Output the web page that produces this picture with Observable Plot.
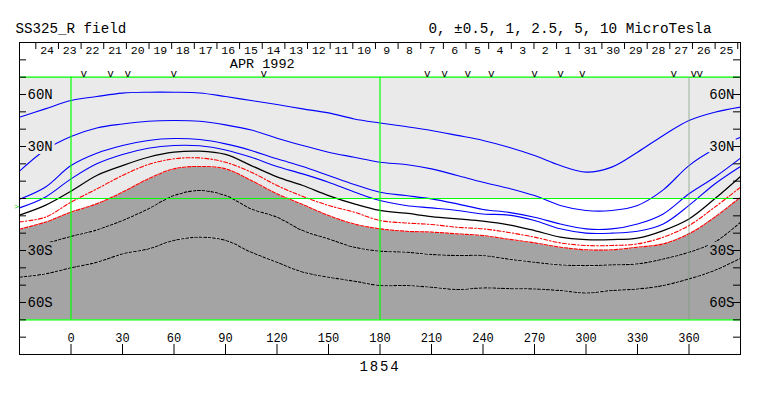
<!DOCTYPE html>
<html><head><meta charset="utf-8">
<script src="https://cdn.jsdelivr.net/npm/d3@7"></script>
<script src="https://cdn.jsdelivr.net/npm/@observablehq/plot@0.6"></script>
<style>html,body{margin:0;padding:0;background:#fff;} svg{display:block}</style>
</head><body><div id="chart"></div>
<script>
// ---- texts ----
const title = "SS325_R field";
const levelsLabel = "0, \u00B10.5, 1, 2.5, 5, 10 MicroTesla";
const rotationLabel = "1854";
const monthLabel = "APR 1992";

// ---- axes / extents (Carrington longitude, latitude) ----
const lonDomain = [-30, 390];
const latDomain = [-90, 90];
const mapLat = 70;
const lonTicks = [0, 30, 60, 90, 120, 150, 180, 210, 240, 270, 300, 330, 360];
const latTicks = [-80, -70, -60, -50, -40, -30, -20, -10, 0, 10, 20, 30, 40, 50, 60, 70, 80];
const latLabels = [60, 30, -30, -60];
const greenLonLines = [0, 180];
const wrapLonLine = [360];
const greenLatLines = [-70, 0, 70];

// date <-> Carrington longitude (rotation 1854)
const dateStart = new Date(Date.UTC(1992, 2, 25));   // Mar 25 1992
const dateEnd = new Date(Date.UTC(1992, 3, 25));     // Apr 25 1992
const lonAtStart = 388.4, lonAtEnd = -20.5;
const monthLabelDate = new Date(Date.UTC(1992, 3, 15));

// observation markers (Carrington longitude)
const obsLons = [7.5, 23.0, 33.1, 59.9, 112.3, 207.5, 217.6, 231.1, 244.8, 270.0, 285.2, 297.8, 351.1, 362.8, 366.3];
const b0Lat = [-4.8];

// ---- contour lines: latitude at each sampled longitude ----
const lons = [-30, -15, 0, 15, 30, 45, 60, 75, 90, 105, 120, 135, 150, 165, 180, 195, 210, 225, 240, 255, 270, 285, 300, 315, 330, 345, 360, 375, 390];
const pos5   = [46.9, 51.7, 56.5, 58.8, 60.8, 61.3, 61.3, 60.9, 58.8, 56.5, 54.2, 51.7, 49.4, 45.9, 43.6, 41.5, 39.2, 36.4, 33.5, 29.6, 24.8, 19.0, 15.2, 18.1, 26.7, 36.4, 45.0, 49.8, 52.7];
const pos2_5 = [15.8, 28.0, 35.8, 40.7, 43.0, 44.6, 45.0, 44.6, 42.5, 39.5, 34.8, 30.6, 26.7, 23.8, 20.9, 19.6, 17.1, 13.3, 9.4, 5.9, 1.7, -4.0, -6.9, -6.9, -4.0, 5.0, 19.0, 28.5, 35.4];
const pos1   = [-0.4, 6.5, 19.0, 26.1, 30.6, 33.5, 34.6, 34.0, 31.5, 27.7, 22.9, 18.5, 13.3, 8.1, 3.6, 1.7, -0.2, -3.1, -6.3, -8.0, -10.8, -14.7, -17.5, -17.5, -14.7, -8.9, 2.7, 12.3, 23.3];
const pos05  = [-5.4, 0.75, 11.3, 20.0, 25.4, 29.0, 30.6, 30.4, 28.0, 23.8, 18.5, 14.2, 9.4, 3.8, -1.2, -4.0, -5.4, -6.9, -8.9, -9.6, -12.7, -17.5, -20.0, -20.0, -18.9, -14.7, -4.0, 8.4, 18.5];
const zero   = [-9.6, -4.0, 4.2, 13.3, 19.0, 23.8, 26.7, 27.3, 25.4, 19.0, 12.5, 7.5, 1.7, -3.1, -6.9, -8.5, -10.4, -11.8, -13.1, -15.2, -18.5, -22.3, -23.7, -23.7, -22.9, -18.5, -11.8, -0.2, 12.7];
const neg05  = [-13.5, -10.8, -2.1, 5.5, 13.3, 19.6, 22.9, 23.4, 20.9, 15.2, 7.5, 1.2, -4.0, -7.9, -12.7, -14.1, -15.0, -16.6, -17.5, -19.6, -22.3, -25.6, -27.1, -27.1, -26.2, -22.3, -15.6, -5.0, 6.5];
const neg1   = [-17.7, -13.7, -7.9, -3.1, 3.6, 11.3, 17.1, 18.5, 17.1, 10.4, 2.7, -3.5, -9.8, -14.7, -17.5, -18.9, -19.4, -20.4, -21.4, -23.5, -25.6, -28.1, -29.6, -29.6, -28.1, -26.2, -20.4, -10.8, 0.75];
const neg2_5 = [null, -26.0, -21.9, -18.1, -12.7, -6.0, 1.7, 4.6, 1.7, -6.0, -10.8, -18.5, -23.3, -28.1, -30.4, -31.0, -32.3, -32.9, -32.9, -35.0, -36.8, -38.3, -38.7, -38.3, -37.7, -34.9, -31.0, -25.2, -13.7];
const neg5   = [-45.4, -43.5, -40.0, -36.8, -32.0, -29.1, -24.2, -22.3, -24.2, -31.0, -36.8, -42.5, -45.4, -47.7, -50.2, -50.2, -51.2, -52.5, -51.6, -52.0, -52.2, -53.1, -54.5, -53.1, -52.2, -50.2, -46.4, -41.5, -34.5];

const rows = lats => lons.map((lon, i) => ({lon, lat: lats[i]}));

// ---- derived via scales ----
const dateToLon = d3.scaleUtc().domain([dateStart, dateEnd]).range([lonAtStart, lonAtEnd]);
const dayTicks = d3.utcDay.range(dateStart, d3.utcDay.offset(dateEnd, 1));
const dayLabels = d3.utcDay.range(dateStart, dateEnd).map(d => ({lon: dateToLon(d3.utcHour.offset(d, 12)), t: String(d.getUTCDate())}));

const W = 763, H = 396;
const mL = 19, mR = 23, mT = 42, mB = 42;
const pxLon = (lonDomain[1] - lonDomain[0]) / (W - mL - mR);
const pxLat = (latDomain[1] - latDomain[0]) / (H - mT - mB);

const font = "Liberation Mono, DejaVu Sans Mono, monospace";
const lightBg = "#eaeaea", darkBg = "#a4a4a4";
const curve = "catmull-rom";

const plot = Plot.plot({
  width: W, height: H,
  marginLeft: mL, marginRight: mR, marginTop: mT, marginBottom: mB,
  x: {domain: lonDomain, axis: null},
  y: {domain: latDomain, axis: null},
  style: {background: "white", fontFamily: font, overflow: "visible"},
  marks: [
    // hemisphere background
    Plot.rect([0], {x1: lonDomain[0], x2: lonDomain[1], y1: 0, y2: mapLat, fill: lightBg}),
    // negative polarity region
    Plot.areaY(rows(neg1), {x: "lon", y1: -mapLat, y2: "lat", fill: darkBg, curve}),
    // positive contours
    Plot.line(rows(pos5), {x: "lon", y: "lat", stroke: "#0000ff", strokeWidth: 1.1, curve}),
    Plot.line(rows(pos2_5), {x: "lon", y: "lat", stroke: "#0000ff", strokeWidth: 1.1, curve}),
    Plot.line(rows(pos1), {x: "lon", y: "lat", stroke: "#0000ff", strokeWidth: 1.1, curve}),
    Plot.line(rows(pos05), {x: "lon", y: "lat", stroke: "#0000ff", strokeWidth: 1.1, curve}),
    // neutral line
    Plot.line(rows(zero), {x: "lon", y: "lat", stroke: "black", strokeWidth: 1.25, curve}),
    // negative contours
    Plot.line(rows(neg05), {x: "lon", y: "lat", stroke: "#ff0000", strokeWidth: 1.1, strokeDasharray: "4,2,1.5,2", curve}),
    Plot.line(rows(neg1), {x: "lon", y: "lat", stroke: "white", strokeWidth: 1, curve}),
    Plot.line(rows(neg1), {x: "lon", y: "lat", stroke: "#ff0000", strokeWidth: 1.1, strokeDasharray: "3.5,1.5", curve}),
    Plot.line(rows(neg2_5), {x: "lon", y: "lat", stroke: "white", strokeWidth: 1.1, curve}),
    Plot.line(rows(neg2_5), {x: "lon", y: "lat", stroke: "black", strokeWidth: 1.1, strokeDasharray: "3,1.5", curve}),
    Plot.line(rows(neg5), {x: "lon", y: "lat", stroke: "white", strokeWidth: 1.1, curve}),
    Plot.line(rows(neg5), {x: "lon", y: "lat", stroke: "black", strokeWidth: 1.1, strokeDasharray: "3,1.5", curve}),
    // green reference lines
    Plot.ruleY(greenLatLines, {stroke: "#00ff00", strokeWidth: 1.2}),
    Plot.ruleX(greenLonLines, {y1: -mapLat, y2: mapLat, stroke: "#00ff00", strokeWidth: 1.2}),
    Plot.ruleX(wrapLonLine, {y1: -mapLat, y2: mapLat, stroke: "#7a9a7a", strokeOpacity: 0.7}),
    // latitude labels with background halos
    Plot.text(latLabels.filter(d => d > 0), {x: lonDomain[0], y: d => d, text: d => `${Math.abs(d)}N`, textAnchor: "start", dx: 8, fontSize: 14, fill: "black", stroke: lightBg, strokeWidth: 6, paintOrder: "stroke"}),
    Plot.text(latLabels.filter(d => d < 0), {x: lonDomain[0], y: d => d, text: d => `${Math.abs(d)}S`, textAnchor: "start", dx: 8, fontSize: 14, fill: "black", stroke: darkBg, strokeWidth: 6, paintOrder: "stroke"}),
    Plot.text(latLabels.filter(d => d > 0), {x: lonDomain[1], y: d => d, text: d => `${Math.abs(d)}N`, textAnchor: "end", dx: -6, fontSize: 14, fill: "black", stroke: lightBg, strokeWidth: 6, paintOrder: "stroke"}),
    Plot.text(latLabels.filter(d => d < 0), {x: lonDomain[1], y: d => d, text: d => `${Math.abs(d)}S`, textAnchor: "end", dx: -6, fontSize: 14, fill: "black", stroke: darkBg, strokeWidth: 6, paintOrder: "stroke"}),
    // frame and inward ticks
    Plot.frame({stroke: "black"}),
    Plot.ruleY(latTicks, {x1: lonDomain[0], x2: lonDomain[0] + 7 * pxLon, stroke: "black"}),
    Plot.ruleY(latTicks, {x1: lonDomain[1] - 7 * pxLon, x2: lonDomain[1], stroke: "black"}),
    Plot.ruleX(lonTicks, {y1: latDomain[0], y2: latDomain[0] + 10 * pxLat, stroke: "black"}),
    Plot.text(lonTicks, {x: d => d, y: latDomain[0], text: d => String(d), dy: -12.5, lineAnchor: "bottom", fontSize: 12, fill: "black"}),
    // date axis on top
    Plot.ruleX(dayTicks, {x: d => dateToLon(d), y1: latDomain[1], y2: latDomain[1] - 7 * pxLat, stroke: "black"}),
    Plot.text(dayLabels, {x: "lon", y: latDomain[1], text: "t", dy: 11.8, lineAnchor: "bottom", fontSize: 11.5, fill: "black"}),
    Plot.text([monthLabel], {x: dateToLon(monthLabelDate), y: latDomain[1], text: d => d, dy: 25.8, lineAnchor: "bottom", fontSize: 13.5, fill: "black"}),
    Plot.text(obsLons, {x: d => d, y: mapLat, text: () => "v", lineAnchor: "bottom", dy: 0, fontSize: 11, fill: "black"}),
    // B0 marker
    Plot.text(b0Lat, {x: lonDomain[0], y: d => d, text: () => ">", textAnchor: "end", dx: -0.5, fontSize: 8, fill: "#00d000"}),
    // titles
    Plot.text([title], {frameAnchor: "top-left", text: d => d, textAnchor: "start", lineAnchor: "bottom", dx: -4, dy: -10, fontSize: 14.2, fill: "black"}),
    Plot.text([levelsLabel], {frameAnchor: "top-right", text: d => d, textAnchor: "end", lineAnchor: "bottom", dx: -29, dy: -10, fontSize: 14.3, fill: "black"}),
    Plot.text([rotationLabel], {x: 180, y: latDomain[0], text: d => d, lineAnchor: "bottom", dy: 16, fontSize: 14, fill: "black"})
  ]
});

d3.select(plot).selectAll("text").filter(function () { return this.textContent === rotationLabel; }).style("letter-spacing", "1.8px");
document.getElementById("chart").appendChild(plot);
</script>
</body></html>
